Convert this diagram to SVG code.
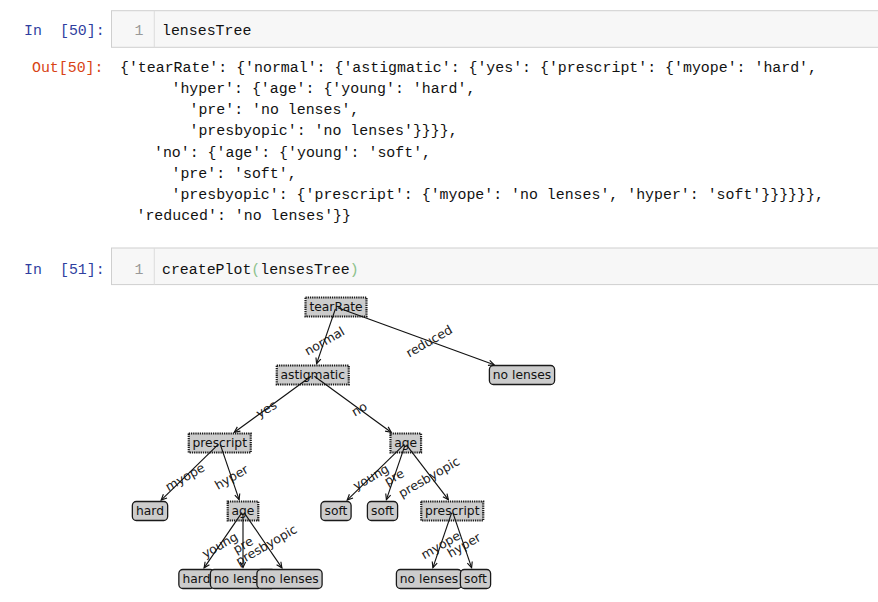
<svg xmlns="http://www.w3.org/2000/svg" width="878" height="602" viewBox="0 0 878 602">
<style>
.code{font-family:"Liberation Mono","DejaVu Sans Mono",monospace;font-size:14.9px;fill:#111}
.pin{fill:#303F9F}
.pout{fill:#D84315}
.lnum{fill:#999}
.cell{fill:#f7f7f7;stroke:#cfcfcf;stroke-width:1}
.nt{font-family:"DejaVu Sans",sans-serif;font-size:12.3px;fill:#111;text-anchor:middle}
.lbl{font-family:"DejaVu Sans",sans-serif;font-size:12.5px;fill:#222;text-anchor:middle;dominant-baseline:central}
.dec{fill:#cccccc;stroke:#1a1a1a;stroke-width:2.2;stroke-dasharray:1.3 0.9}
.leaf{fill:#cccccc;stroke:#1a1a1a;stroke-width:1.3}
.edge{stroke:#111;stroke-width:1.15;fill:none;marker-end:url(#ah)}
</style>
<defs>
<marker id="ah" markerUnits="userSpaceOnUse" markerWidth="8" markerHeight="8" viewBox="0 0 8 8" refX="6.8" refY="4" orient="auto">
<path d="M1.2,1.4 L6.8,4 L1.2,6.6" fill="none" stroke="#111" stroke-width="1.15"/>
</marker>
<clipPath id="clipNL"><rect x="210" y="560" width="46.9" height="40"/></clipPath>
</defs>
<rect x="0" y="0" width="878" height="602" fill="#fff"/>
<g id="notebook">
<rect class="cell" x="111.5" y="10.7" width="800" height="36.6"/>
<line x1="154.3" y1="10.7" x2="154.3" y2="47.3" stroke="#dddddd"/>
<text class="code pin" x="24" y="35">In</text>
<text class="code pin" x="60" y="35">[50]:</text>
<text class="code lnum" x="134.5" y="35">1</text>
<text class="code" x="162" y="35">lensesTree</text>
<text class="code pout" x="32" y="72">Out[50]:</text>
<text class="code" x="120" y="72">{'tearRate': {'normal': {'astigmatic': {'yes': {'prescript': {'myope': 'hard',</text>
<text class="code" x="171.5" y="93">'hyper': {'age': {'young': 'hard',</text>
<text class="code" x="189.5" y="114">'pre': 'no lenses',</text>
<text class="code" x="189.5" y="135">'presbyopic': 'no lenses'}}}},</text>
<text class="code" x="154" y="157">'no': {'age': {'young': 'soft',</text>
<text class="code" x="171.5" y="178">'pre': 'soft',</text>
<text class="code" x="171.5" y="199">'presbyopic': {'prescript': {'myope': 'no lenses', 'hyper': 'soft'}}}}}},</text>
<text class="code" x="136.5" y="220">'reduced': 'no lenses'}}</text>
<rect class="cell" x="111.5" y="248" width="800" height="36.6"/>
<line x1="154.3" y1="248" x2="154.3" y2="284.6" stroke="#dddddd"/>
<text class="code pin" x="24" y="274">In</text>
<text class="code pin" x="60" y="274">[51]:</text>
<text class="code lnum" x="134.5" y="274">1</text>
<text class="code" x="162" y="274">createPlot<tspan fill="#8cc28c">(</tspan>lensesTree<tspan fill="#8cc28c">)</tspan></text>
</g>
<g id="n-tearRate"><rect class="dec" x="305.5" y="297.5" width="61" height="19"/><text class="nt" x="336" y="311">tearRate</text></g>
<g id="n-astigmatic"><rect class="dec" x="276.75" y="365.5" width="72" height="19"/><text class="nt" x="312.75" y="379">astigmatic</text></g>
<g id="n-prescript1"><rect class="dec" x="188.75" y="433.5" width="62" height="19"/><text class="nt" x="219.75" y="447">prescript</text></g>
<g id="n-hard1"><rect class="leaf" x="132.35" y="501.5" width="35.3" height="19" rx="4"/><text class="nt" x="150" y="515">hard</text></g>
<g id="n-age1"><rect class="dec" x="227.7" y="501.5" width="30.6" height="19"/><text class="nt" x="243" y="515">age</text></g>
<g id="n-hard2"><rect class="leaf" x="178.85" y="569.5" width="35.3" height="19" rx="4"/><text class="nt" x="196.5" y="583">hard</text></g>
<g id="n-nolenses1"><rect class="leaf" x="210.4" y="569.5" width="65.2" height="19" rx="4"/><text class="nt" x="243" y="583" clip-path="url(#clipNL)">no lenses</text></g>
<g id="n-nolenses2"><rect class="leaf" x="256.9" y="569.5" width="65.2" height="19" rx="4"/><text class="nt" x="289.5" y="583">no lenses</text></g>
<g id="n-age2"><rect class="dec" x="390.45" y="433.5" width="30.6" height="19"/><text class="nt" x="405.75" y="447">age</text></g>
<g id="n-soft1"><rect class="leaf" x="320.9" y="501.5" width="30.2" height="19" rx="4"/><text class="nt" x="336" y="515">soft</text></g>
<g id="n-soft2"><rect class="leaf" x="367.4" y="501.5" width="30.2" height="19" rx="4"/><text class="nt" x="382.5" y="515">soft</text></g>
<g id="n-prescript2"><rect class="dec" x="421.25" y="501.5" width="62" height="19"/><text class="nt" x="452.25" y="515">prescript</text></g>
<g id="n-nolenses3"><rect class="leaf" x="396.4" y="569.5" width="65.2" height="19" rx="4"/><text class="nt" x="429" y="583">no lenses</text></g>
<g id="n-soft3"><rect class="leaf" x="460.4" y="569.5" width="30.2" height="19" rx="4"/><text class="nt" x="475.5" y="583">soft</text></g>
<g id="n-nolenses4"><rect class="leaf" x="489.4" y="365.5" width="65.2" height="19" rx="4"/><text class="nt" x="522" y="379">no lenses</text></g>
<g id="connectors">
<text class="lbl" x="324.4" y="341" transform="rotate(-30 324.4 341)">normal</text>
<text class="lbl" x="429" y="341" transform="rotate(-30 429 341)">reduced</text>
<text class="lbl" x="266.25" y="409" transform="rotate(-30 266.25 409)">yes</text>
<text class="lbl" x="359.25" y="409" transform="rotate(-30 359.25 409)">no</text>
<text class="lbl" x="184.9" y="477" transform="rotate(-30 184.9 477)">myope</text>
<text class="lbl" x="231.4" y="477" transform="rotate(-30 231.4 477)">hyper</text>
<text class="lbl" x="219.75" y="545" transform="rotate(-30 219.75 545)">young</text>
<text class="lbl" x="243" y="545" transform="rotate(-30 243 545)">pre</text>
<text class="lbl" x="266.25" y="545" transform="rotate(-30 266.25 545)">presbyopic</text>
<text class="lbl" x="370.9" y="477" transform="rotate(-30 370.9 477)">young</text>
<text class="lbl" x="394.1" y="477" transform="rotate(-30 394.1 477)">pre</text>
<text class="lbl" x="429" y="477" transform="rotate(-30 429 477)">presbyopic</text>
<text class="lbl" x="440.6" y="545" transform="rotate(-30 440.6 545)">myope</text>
<text class="lbl" x="463.9" y="545" transform="rotate(-30 463.9 545)">hyper</text>
<line class="edge" x1="335.4" y1="308.9" x2="316.6" y2="363.6"/>
<line class="edge" x1="337.9" y1="307.7" x2="494.1" y2="364.8"/>
<line class="edge" x1="311.1" y1="376.2" x2="234.35" y2="432.3"/>
<line class="edge" x1="314.4" y1="376.2" x2="391.15" y2="432.3"/>
<line class="edge" x1="218.3" y1="444.4" x2="161.2" y2="500.1"/>
<line class="edge" x1="220.4" y1="444.9" x2="239.1" y2="499.6"/>
<line class="edge" x1="241.9" y1="512.65" x2="204.1" y2="567.85"/>
<line class="edge" x1="243" y1="513" x2="243" y2="567.5"/>
<line class="edge" x1="244.1" y1="512.65" x2="281.9" y2="567.85"/>
<line class="edge" x1="404.3" y1="444.4" x2="347.2" y2="500.1"/>
<line class="edge" x1="405.1" y1="444.9" x2="386.4" y2="499.6"/>
<line class="edge" x1="406.4" y1="444.9" x2="448.35" y2="499.6"/>
<line class="edge" x1="451.6" y1="512.9" x2="432.9" y2="567.6"/>
<line class="edge" x1="452.9" y1="512.9" x2="471.6" y2="567.6"/>
</g>
</svg>
